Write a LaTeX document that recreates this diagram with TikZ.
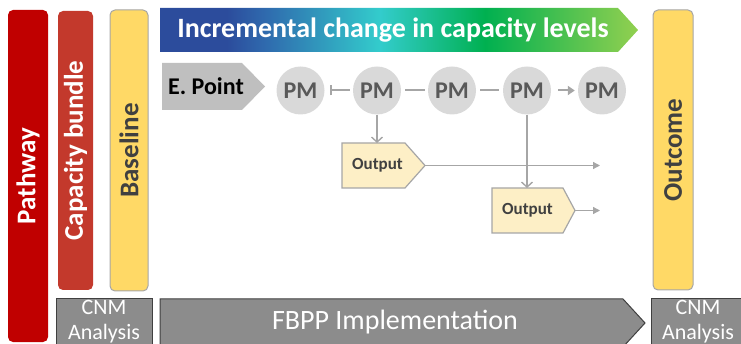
\documentclass[tikz,border=0pt]{standalone}
\usepackage{fontspec}
\setmainfont{Carlito}
\usetikzlibrary{arrows.meta}

\definecolor{pathred}{HTML}{C00000}
\definecolor{bundlered}{HTML}{C3392C}
\definecolor{baseyellow}{HTML}{FFD966}
\definecolor{pmgray}{HTML}{D9D9D9}
\definecolor{pmtext}{HTML}{595959}
\definecolor{linkgray}{HTML}{A6A6A6}
\definecolor{boxgray}{HTML}{8C8C8C}
\definecolor{boxedge}{HTML}{404040}
\definecolor{txtgray}{HTML}{404040}
\definecolor{outyellow}{HTML}{FDEFC6}
\definecolor{epgray}{HTML}{BFBFBF}
\definecolor{gblue}{HTML}{2C4C9C}
\definecolor{gblueb}{HTML}{2F6AAE}
\definecolor{gteal}{HTML}{33CCCC}
\definecolor{ggreen}{HTML}{00B050}
\definecolor{glight}{HTML}{92D050}

\pgfdeclarehorizontalshading{levels}{100bp}{color(0bp)=(gblue); color(25bp)=(gblue); color(32bp)=(gblue); color(36bp)=(gblueb); color(48bp)=(gteal); color(59bp)=(ggreen); color(75bp)=(glight); color(100bp)=(glight)}

\tikzset{
  bar/.style={rotate=90, rounded corners=5pt, inner sep=0pt, font=\fontsize{27}{30}\selectfont\bfseries},
  pm/.style={circle, fill=pmgray, minimum size=48pt, inner sep=0pt, text=pmtext, font=\fontsize{24}{26}\selectfont\bfseries},
  link/.style={draw=linkgray, line width=2pt},
  drop/.style={draw=linkgray, line width=1.4pt, -{Straight Barb[length=5pt,width=11pt]}},
  flow/.style={draw=linkgray, line width=1.3pt, -{Triangle[length=7pt,width=7pt]}},
  outbox/.style={fill=outyellow, draw=linkgray, line width=1.2pt},
  cnm/.style={fill=boxgray, draw=boxedge, line width=1pt},
}

\begin{document}
\begin{tikzpicture}[x=1pt, y=-1pt]

\useasboundingbox (0,0) rectangle (741,344);
\clip (0,0) rectangle (741,344);

% side bars
\node[bar, fill=pathred, text=white, minimum width=332pt, minimum height=40pt] (pathway) at (28,176) {Pathway};
\node[bar, fill=bundlered, text=white, minimum width=279pt, minimum height=35pt] (bundle) at (75.5,150.5) {Capacity bundle};
\node[bar, fill=baseyellow, draw=linkgray, line width=1pt, text=txtgray, minimum width=281pt, minimum height=38pt] (baseline) at (129,150.5) {Baseline};
\node[bar, fill=baseyellow, draw=linkgray, line width=1pt, text=txtgray, minimum width=280pt, minimum height=40pt] (outcome) at (673,150) {Outcome};

% top arrow
\shade[shading=levels] (160,8) -- (618,8) -- (638,30) -- (618,52) -- (160,52) -- cycle;
\node[text=white, font=\fontsize{28}{30}\selectfont\bfseries] (levels) at (393,30) {Incremental change in capacity levels};

% entry point
\fill[epgray] (162,63) -- (242,63) -- (265,86.5) -- (242,110) -- (162,110) -- cycle;
\node[font=\fontsize{24}{26}\selectfont\bfseries] (epoint) at (206,86) {E. Point};

% progress markers
\node[pm] (pm1) at (300.5,90.5) {PM};
\node[pm] (pm2) at (377,90.5) {PM};
\node[pm] (pm3) at (452,90.5) {PM};
\node[pm] (pm4) at (527,90.5) {PM};
\node[pm] (pm5) at (602,90.5) {PM};

\draw[link, {Bar[width=10pt,line width=2pt]}-, shorten <=5pt, shorten >=3pt] (pm1) -- (pm2);
\draw[link, shorten <=4pt, shorten >=3pt] (pm2) -- (pm3);
\draw[link, shorten <=4pt, shorten >=4pt] (pm3) -- (pm4);
\draw[link, -{Triangle[length=7pt,width=9pt]}, shorten <=7pt, shorten >=3pt] (pm4) -- (pm5);

% outputs
\draw[outbox] (342,143) -- (405,143) -- (425,165.5) -- (405,188) -- (342,188) -- cycle;
\node[text=txtgray, font=\fontsize{17}{19}\selectfont\bfseries] (out1) at (377.5,165.5) {Output};
\coordinate (out1top) at (377,143);
\coordinate (out1tip) at (425,165.5);
\coordinate (end1) at (600,165.5);

\draw[outbox] (492,188) -- (563,188) -- (575,210.5) -- (563,233) -- (492,233) -- cycle;
\node[text=txtgray, font=\fontsize{17}{19}\selectfont\bfseries] (out2) at (527.5,210) {Output};
\coordinate (out2top) at (527,188);
\coordinate (out2tip) at (575,210.5);
\coordinate (end2) at (600,210.5);

\draw[drop] (pm2) -- (out1top);
\draw[drop] (pm4) -- (out2top);
\draw[flow] (out1tip) -- (end1);
\draw[flow] (out2tip) -- (end2);

% bottom strip
\draw[cnm] (56,299) rectangle (152,352);
\node[text=white, align=center, font=\fontsize{22}{25}\selectfont] (cnmL) at (104,322) {CNM\\Analysis};

\draw[cnm] (160,299) -- (623,299) -- (645,323) -- (623,347) -- (160,347) -- cycle;
\node[text=white, font=\fontsize{28}{30}\selectfont] (fbpp) at (395,322) {FBPP Implementation};

\draw[cnm] (651,299) rectangle (748,352);
\node[text=white, align=center, font=\fontsize{22}{25}\selectfont] (cnmR) at (698,322) {CNM\\Analysis};

\end{tikzpicture}
\end{document}
